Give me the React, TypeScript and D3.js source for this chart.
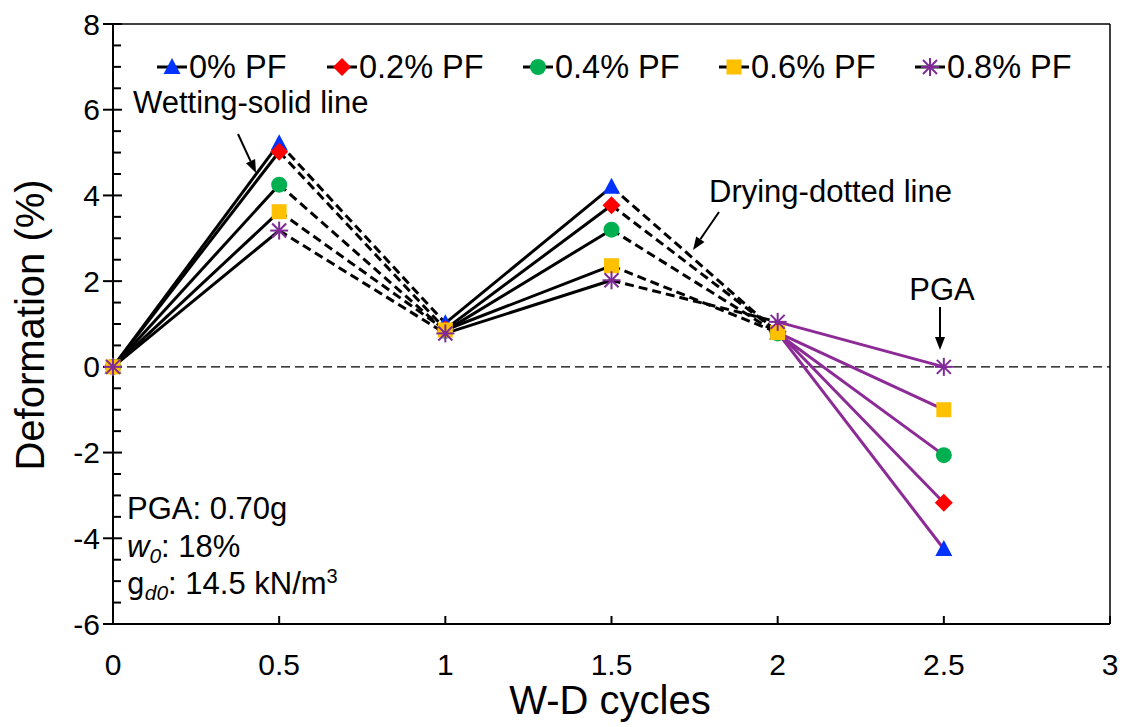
import * as React from "react";
import * as d3 from "d3";

// W-D cycle positions and deformation (%) per series
const cycles = [0, 0.5, 1, 1.5, 2, 2.5];
const seriesNames = ["0% PF", "0.2% PF", "0.4% PF", "0.6% PF", "0.8% PF"];
const pf0 = [0, 5.22, 1.02, 4.2, 0.8, -4.25];
const pf02 = [0, 5.02, 0.88, 3.77, 0.82, -3.17];
const pf04 = [0, 4.25, 0.84, 3.2, 0.78, -2.06];
const pf06 = [0, 3.62, 0.86, 2.36, 0.8, -1.0];
const pf08 = [0, 3.18, 0.78, 2.02, 1.05, 0];
const xTickValues = [0, 0.5, 1, 1.5, 2, 2.5, 3];
const yTickValues = [-6, -4, -2, 0, 2, 4, 6, 8];

const colors = ["#0033FF", "#FF0000", "#00B050", "#FFC000", "#7F2A96"];
const shapes = ["triangle", "diamond", "circle", "square", "asterisk"];
const FONT = "'Liberation Sans', Arial, sans-serif";

function Marker({ shape, color, x, y }: { shape: string; color: string; x: number; y: number }) {
  if (shape === "triangle")
    return <path d={`M${x},${y - 9} L${x + 8.5},${y + 7} L${x - 8.5},${y + 7} Z`} fill={color} />;
  if (shape === "diamond")
    return <path d={`M${x},${y - 9} L${x + 9},${y} L${x},${y + 9} L${x - 9},${y} Z`} fill={color} />;
  if (shape === "circle") return <circle cx={x} cy={y} r={8} fill={color} />;
  if (shape === "square") return <rect x={x - 7.5} y={y - 7.5} width={15} height={15} fill={color} />;
  return (
    <g stroke={color} strokeWidth={2}>
      <line x1={x - 7} y1={y - 7} x2={x + 7} y2={y + 7} />
      <line x1={x - 7} y1={y + 7} x2={x + 7} y2={y - 7} />
      <line x1={x} y1={y - 9} x2={x} y2={y + 9} />
      <line x1={x - 9} y1={y} x2={x + 9} y2={y} />
    </g>
  );
}

function Arrow({ x1, y1, x2, y2 }: { x1: number; y1: number; x2: number; y2: number }) {
  const a = Math.atan2(y2 - y1, x2 - x1);
  const L = 13, W = 5;
  const bx = x2 - L * Math.cos(a), by = y2 - L * Math.sin(a);
  const p1 = [bx + W * Math.sin(a), by - W * Math.cos(a)];
  const p2 = [bx - W * Math.sin(a), by + W * Math.cos(a)];
  return (
    <g>
      <line x1={x1} y1={y1} x2={bx} y2={by} stroke="black" strokeWidth={2} />
      <path d={`M${x2},${y2} L${p1[0]},${p1[1]} L${p2[0]},${p2[1]} Z`} fill="black" />
    </g>
  );
}

export default function App() {
  const width = 1128;
  const height = 727;
  const x = d3.scaleLinear().domain([0, 3]).range([113, 1110]);
  const y = d3.scaleLinear().domain([-6, 8]).range([624, 24]);
  const data = [pf0, pf02, pf04, pf06, pf08];
  const minorY = d3.range(-6, 8.01, 0.5).filter((v) => Math.abs(v % 2) > 0.01);

  const legendX = [157, 327, 523, 719, 915];

  return (
    <svg width={width} height={height} style={{ position: "absolute", left: 0, top: 0, background: "white" }}>
      <rect width={width} height={height} fill="white" />
      {/* zero reference line */}
      <line x1={x(0)} x2={x(3)} y1={y(0)} y2={y(0)} stroke="black" strokeWidth={1.3} strokeDasharray="9,5" />

      {/* plot box and axes */}
      <line x1={x(0)} x2={x(3)} y1={y(8)} y2={y(8)} stroke="black" strokeWidth={1.5} />
      <line x1={x(3)} x2={x(3)} y1={y(8)} y2={y(-6)} stroke="black" strokeWidth={1.5} />
      <line x1={x(0)} x2={x(0)} y1={y(8)} y2={y(-6)} stroke="black" strokeWidth={2} />
      <line x1={x(0) - 10} x2={x(3)} y1={y(-6)} y2={y(-6)} stroke="black" strokeWidth={2} />
      {yTickValues.map((t) => (
        <g key={t}>
          <line x1={x(0) - 10} x2={x(0) + 9} y1={y(t)} y2={y(t)} stroke="black" strokeWidth={2} />
          <text x={100} y={y(t)} dy="0.35em" textAnchor="end" fontSize={30} fontFamily={FONT}>
            {t}
          </text>
        </g>
      ))}
      {minorY.map((t) => (
        <line key={t} x1={x(0)} x2={x(0) + 8} y1={y(t)} y2={y(t)} stroke="black" strokeWidth={2} />
      ))}
      {xTickValues.map((t) => (
        <g key={t}>
          <line x1={x(t)} x2={x(t)} y1={y(-6)} y2={y(-6) - 8} stroke="black" strokeWidth={2} />
          <text x={x(t)} y={675} textAnchor="middle" fontSize={30} fontFamily={FONT}>
            {t}
          </text>
        </g>
      ))}

      {/* series segments: wetting solid, drying dashed, PGA purple */}
      {data.map((vals, si) =>
        vals.slice(0, -1).map((v, i) => {
          const isPGA = i === 4;
          const dashed = i === 1 || i === 3;
          return (
            <line
              key={`${si}-${i}`}
              x1={x(cycles[i])}
              y1={y(v)}
              x2={x(cycles[i + 1])}
              y2={y(vals[i + 1])}
              stroke={isPGA ? "#8C2A96" : "black"}
              strokeWidth={3}
              strokeDasharray={dashed ? "9,5" : undefined}
            />
          );
        })
      )}
      {data.map((vals, si) =>
        vals.map((v, i) => (
          <Marker key={`${si}-m${i}`} shape={shapes[si]} color={colors[si]} x={x(cycles[i])} y={y(v)} />
        ))
      )}

      {/* legend */}
      {seriesNames.map((name, i) => (
        <g key={name}>
          <line x1={legendX[i]} x2={legendX[i] + 30} y1={67} y2={67} stroke="black" strokeWidth={3} />
          <Marker shape={shapes[i]} color={colors[i]} x={legendX[i] + 15} y={67} />
          <text x={legendX[i] + 32} y={78} fontSize={32.5} fontFamily={FONT}>
            {name}
          </text>
        </g>
      ))}

      {/* annotations */}
      <text x={133} y={113} fontSize={31} fontFamily={FONT}>Wetting-solid line</text>
      <Arrow x1={238} y1={134} x2={256} y2={173} />
      <text x={709} y={202} fontSize={31} fontFamily={FONT}>Drying-dotted line</text>
      <Arrow x1={719} y1={212} x2={693} y2={250} />
      <text x={942} y={300} textAnchor="middle" fontSize={31} fontFamily={FONT}>PGA</text>
      <Arrow x1={940} y1={307} x2={940} y2={350} />

      <g fontFamily={FONT} fontSize={31}>
        <text x={127} y={519}>PGA: 0.70g</text>
        <text x={127} y={557}>
          <tspan fontStyle="italic">w</tspan>
          <tspan fontStyle="italic" fontSize={21} dy={6}>0</tspan>
          <tspan dy={-6}>: 18%</tspan>
        </text>
        <text x={127} y={594}>
          <tspan fontFamily="'DejaVu Sans Condensed', 'DejaVu Sans', sans-serif" fontWeight={200}>g</tspan>
          <tspan fontStyle="italic" fontSize={21} dy={6}>d0</tspan>
          <tspan dy={-6}>: 14.5 kN/m</tspan>
          <tspan fontSize={20} dy={-11}>3</tspan>
        </text>
      </g>

      {/* axis titles */}
      <text x={610} y={714} textAnchor="middle" fontSize={40} fontFamily={FONT}>W-D cycles</text>
      <text
        transform={`translate(44, 325) rotate(-90)`}
        textAnchor="middle"
        fontSize={40}
        fontFamily={FONT}
      >
        Deformation (%)
      </text>
    </svg>
  );
}
